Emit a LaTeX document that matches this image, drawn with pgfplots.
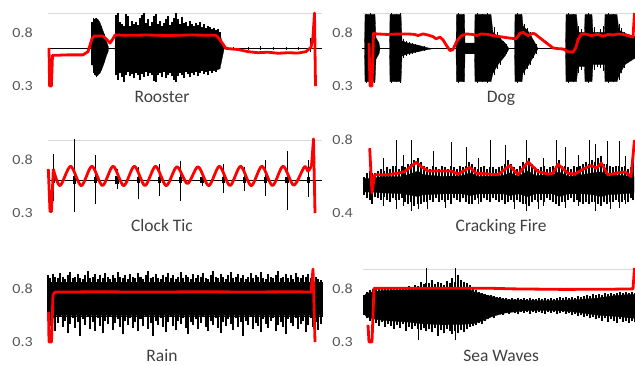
\documentclass[border=0pt]{standalone}
\usepackage{pgfplots}
\pgfplotsset{compat=1.18}
\usepackage{fontspec}
\setmainfont{Carlito}
\newfontfamily\tickfam[FakeStretch=1.15]{Carlito}
\newcommand\tickfont{\tickfam\fontsize{14}{16}\selectfont}
\newcommand\titlefont{\fontsize{17.5}{20}\selectfont}
\definecolor{tickgray}{HTML}{595959}
\definecolor{titlegray}{HTML}{404040}
\definecolor{gridgray}{HTML}{D9D9D9}
\definecolor{wred}{HTML}{FF0000}
\pgfplotsset{
  panel/.style={width=274pt, height=73pt, scale only axis, anchor=south west,
    xmin=0, xmax=274, ymin=0.3, ymax=0.98, clip=false,
    axis line style={draw=none}, major tick length=0pt,
    xtick=\empty, ytick={0.3,0.8},
    yticklabel={\pgfmathprintnumber[assume math mode=true, fixed, precision=1]{\tick}},
    yticklabel style={font=\tickfont, text=tickgray, anchor=east, inner sep=0pt},
  },
  leftcol/.style={yticklabel style={xshift=-15pt}},
  rightcol/.style={yticklabel style={xshift=-10pt}},
  redline/.style={wred, line width=2.8pt, line join=round, mark=none},
  cline/.style={black, line width=1pt, mark=none},
  body/.style={fill=black, draw=black, line width=0.3pt, mark=none},
  spikes/.style={black, only marks, mark=none, mark size=0pt,
    mark options={draw=none, fill=none},
    error bars/.cd, y dir=plus, y explicit, error mark=none,
    error bar style={line width=#1, black}},
}
\begin{document}
\begin{tikzpicture}
\useasboundingbox (0,0) rectangle (635pt,365pt);

% ---------------- Rooster ----------------
\begin{axis}[panel, leftcol, at={(48pt,279pt)}]
\draw[gridgray, line width=0.8pt] (rel axis cs:0,1) -- (rel axis cs:1,1);
\addplot[cline] coordinates {(0,0.647) (274,0.647)};
\addplot[body] table {
x y
43.5 0.647
44.5 0.88
46 0.92
48 0.93
50 0.92
52 0.89
54 0.84
56 0.79
58 0.73
60.5 0.66
60.5 0.63
58 0.57
56 0.51
54 0.46
52 0.42
50 0.40
48.5 0.39
47 0.41
45.5 0.45
44.5 0.52
43.5 0.647
};
\addplot[body] table {
x y
67 0.647
68 0.82
75 0.84
85 0.83
95 0.85
105 0.83
115 0.84
125 0.83
135 0.82
145 0.84
155 0.83
165 0.82
172 0.80
174 0.70
176 0.647
176 0.64
174 0.55
172 0.46
165 0.44
155 0.46
145 0.44
135 0.45
125 0.44
115 0.46
105 0.44
95 0.45
85 0.43
75 0.46
68 0.48
67 0.647
};
\addplot[spikes=1.7pt] table[x=x, y=lo, y error expr=\thisrow{hi}-\thisrow{lo}] {
x lo hi
44 0.50 0.90
45.5 0.42 0.93
47 0.40 0.92
48.5 0.38 0.93
50 0.41 0.90
51.5 0.43 0.89
53 0.45 0.86
54.5 0.49 0.82
56 0.52 0.78
57.5 0.56 0.74
68 0.40 0.96
70 0.36 0.98
72 0.42 0.90
74 0.38 0.88
76 0.34 0.86
78 0.40 0.97
80 0.43 0.95
82 0.39 0.86
84 0.41 0.91
86 0.37 0.88
88 0.42 0.90
90 0.40 0.87
92 0.36 0.93
94 0.41 0.96
96 0.38 0.98
98 0.43 0.89
100 0.39 0.92
102 0.42 0.86
104 0.40 0.90
106 0.35 0.95
108 0.34 0.97
110 0.40 0.88
112 0.42 0.91
114 0.38 0.86
116 0.43 0.89
118 0.37 0.92
120 0.40 0.95
122 0.42 0.87
124 0.39 0.90
126 0.36 0.93
128 0.34 0.98
130 0.39 0.92
132 0.42 0.88
134 0.40 0.94
136 0.37 0.89
138 0.43 0.90
140 0.41 0.86
142 0.38 0.91
144 0.42 0.88
146 0.40 0.86
148 0.43 0.89
150 0.39 0.87
152 0.42 0.90
154 0.44 0.85
156 0.41 0.88
158 0.43 0.84
160 0.40 0.86
162 0.44 0.85
164 0.42 0.83
166 0.45 0.84
168 0.43 0.82
170 0.46 0.83
172 0.50 0.80
};
\addplot[spikes=1pt] table[x=x, y=lo, y error expr=\thisrow{hi}-\thisrow{lo}] {
x lo hi
185 0.635 0.665
200 0.638 0.66
212 0.64 0.668
225 0.635 0.662
238 0.64 0.665
250 0.637 0.66
262 0.62 0.75
};
\addplot[redline] coordinates {(1,0.655) (1.6,0.30) (3.4,0.30) (4.5,0.585) (20,0.59) (35,0.59) (40,0.62) (44,0.74) (46,0.765) (55,0.765) (59,0.73) (62,0.70) (65,0.74) (67,0.775) (80,0.772) (100,0.775) (120,0.770) (140,0.775) (160,0.773) (168,0.772) (172,0.73) (178,0.65) (190,0.64) (200,0.62) (210,0.61) (220,0.615) (230,0.605) (240,0.61) (250,0.607) (258,0.62) (263,0.66) (265,0.76) (266.5,0.98) (267.5,0.30)};
\node[font=\titlefont, text=titlegray, anchor=base] at ([yshift=-16.5pt]rel axis cs:0.416,0) {Rooster};
\end{axis}

% ---------------- Dog ----------------
\begin{axis}[panel, rightcol, at={(363pt,279pt)}]
\draw[gridgray, line width=0.8pt] (rel axis cs:0,1) -- (rel axis cs:1,1);
\addplot[cline] coordinates {(-1,0.647) (272,0.647)};
\addplot[body] table {
x y
-1 0.647
1.5 0.647
2 0.965
12 0.965
13 0.75
16 0.70
17 0.647
26.5 0.647
27 0.965
38 0.965
39 0.72
45 0.70
55 0.68
65 0.655
70 0.647
93 0.647
93.5 0.965
101.5 0.965
102 0.70
111.5 0.70
112 0.965
128 0.965
130 0.80
135 0.76
142 0.70
146 0.647
151.5 0.647
152 0.965
159 0.965
160 0.86
166 0.80
172 0.70
175 0.647
202.5 0.647
203 0.965
213.5 0.965
215 0.80
221.5 0.80
222 0.965
229 0.965
230 0.80
241.5 0.80
242 0.965
254 0.965
256 0.82
262 0.79
272 0.76
272 0.56
262 0.50
256 0.40
254 0.34
242 0.34
241.5 0.50
230 0.50
229 0.34
222 0.34
221.5 0.48
215 0.48
213.5 0.34
203 0.34
202.5 0.647
175 0.647
172 0.60
166 0.50
160 0.42
159 0.34
152 0.34
151.5 0.647
146 0.647
142 0.58
135 0.50
130 0.42
128 0.34
112 0.34
111.5 0.60
102 0.60
101.5 0.34
93.5 0.34
93 0.647
70 0.647
65 0.64
55 0.62
45 0.60
39 0.58
38 0.34
27 0.34
26.5 0.647
17 0.647
16 0.60
13 0.55
12 0.34
2 0.34
1.5 0.647
-1 0.647
};
\addplot[spikes=1pt] table[x=x, y=lo, y error expr=\thisrow{hi}-\thisrow{lo}] {
x lo hi
3 0.33 0.975
7 0.335 0.98
11 0.33 0.975
28 0.33 0.98
33 0.335 0.975
37 0.33 0.98
40 0.56 0.74
43 0.58 0.72
46 0.59 0.71
49 0.60 0.70
52 0.61 0.69
55 0.62 0.68
58 0.625 0.675
61 0.63 0.67
95 0.33 0.98
100 0.335 0.975
114 0.33 0.98
119 0.335 0.975
124 0.33 0.98
131 0.40 0.85
134 0.46 0.80
137 0.50 0.77
140 0.56 0.72
143 0.60 0.69
154 0.33 0.98
158 0.335 0.975
161 0.40 0.88
164 0.46 0.84
167 0.50 0.80
170 0.56 0.73
173 0.60 0.69
205 0.33 0.98
210 0.335 0.975
215 0.42 0.86
218 0.45 0.83
225 0.33 0.98
231 0.45 0.85
234 0.48 0.80
237 0.47 0.83
240 0.44 0.86
245 0.33 0.98
250 0.335 0.975
256 0.36 0.88
258 0.42 0.84
261 0.47 0.80
264 0.52 0.78
267 0.54 0.76
270 0.55 0.75
};
\addplot[redline] coordinates {(6,0.70) (7,0.30) (9,0.30) (10.5,0.79) (14,0.785) (25,0.78) (35,0.785) (45,0.785) (52,0.78) (55,0.77) (60,0.785) (65,0.775) (70,0.76) (73,0.74) (77,0.755) (80,0.73) (84,0.67) (87,0.63) (90,0.64) (94,0.72) (98,0.765) (103,0.785) (110,0.78) (114,0.77) (118,0.785) (125,0.78) (130,0.77) (140,0.755) (148,0.745) (153,0.74) (157,0.79) (160,0.80) (165,0.77) (170,0.79) (172,0.785) (178,0.74) (185,0.69) (190,0.655) (195,0.648) (200,0.645) (205,0.62) (210,0.615) (213,0.66) (215,0.73) (218,0.78) (222,0.785) (228,0.77) (235,0.78) (240,0.765) (245,0.78) (250,0.775) (255,0.785) (260,0.78) (265,0.77) (270,0.755) (271.5,0.98)};
\node[font=\titlefont, text=titlegray, anchor=base] at ([yshift=-16.5pt]rel axis cs:0.504,0) {Dog};
\end{axis}

% ---------------- Clock Tic ----------------
\begin{axis}[panel, leftcol, at={(48pt,152pt)}]
\draw[gridgray, line width=0.8pt] (rel axis cs:0,1) -- (rel axis cs:1,1);
\addplot[cline] coordinates {(0,0.607) (274,0.607)};
\addplot[spikes=1pt] table[x=x, y=lo, y error expr=\thisrow{hi}-\thisrow{lo}] {
x lo hi
5.3 0.41 0.85
26.55 0.31 0.99
47.8 0.385 0.838
69.05 0.52 0.71
90.3 0.427 0.727
111.55 0.46 0.76
132.8 0.41 0.78
154.05 0.553 0.664
175.3 0.49 0.76
196.55 0.506 0.727
217.8 0.46 0.79
239.05 0.33 0.88
260.3 0.45 0.79
};
\addplot[spikes=3.2pt] table[x=x, y=lo, y error expr=\thisrow{hi}-\thisrow{lo}] {
x lo hi
5.3 0.575 0.64
26.55 0.57 0.645
47.8 0.575 0.64
69.05 0.57 0.645
90.3 0.575 0.64
111.55 0.575 0.64
132.8 0.575 0.64
154.05 0.58 0.635
175.3 0.575 0.64
196.55 0.58 0.635
217.8 0.575 0.64
239.05 0.575 0.64
260.3 0.575 0.64
};
\addplot[redline] coordinates {(0.3,0.71) (2,0.315) (3.5,0.315) (5.3,0.71)};
\addplot[redline, smooth] coordinates {(5.3,0.71) (12,0.555) (22.6,0.735) (33.25,0.555) (43.9,0.735) (54.5,0.556) (65.1,0.735) (75.75,0.555) (86.4,0.735) (97,0.556) (107.6,0.735) (118.25,0.555) (128.9,0.73) (139.5,0.575) (150.1,0.73) (160.75,0.555) (171.4,0.735) (182,0.556) (192.6,0.735) (203.25,0.555) (213.9,0.735) (224.5,0.556) (235.1,0.735) (245.75,0.56) (256.4,0.73) (260,0.69) (263.5,0.74)};
\addplot[redline] coordinates {(263.5,0.74) (265.5,0.99) (267,0.30)};
\node[font=\titlefont, text=titlegray, anchor=base] at ([yshift=-18pt]rel axis cs:0.416,0) {Clock Tic};
\end{axis}

% ---------------- Cracking Fire ----------------
\begin{axis}[panel, rightcol, at={(363pt,152pt)}, ymin=0.4, ymax=0.8, ytick={0.4,0.8}]
\addplot[body] table {
x y
1 0.555
2 0.59
10 0.59
20 0.60
40 0.60
50 0.62
55 0.63
60 0.61
80 0.60
100 0.605
107 0.62
115 0.60
140 0.605
147 0.62
155 0.60
165 0.63
172 0.605
190 0.61
196 0.625
205 0.60
220 0.61
230 0.62
238 0.625
245 0.61
260 0.605
271 0.60
271 0.51
260 0.505
245 0.50
238 0.49
230 0.50
220 0.505
205 0.505
196 0.49
190 0.505
172 0.505
165 0.49
155 0.505
147 0.495
140 0.505
115 0.505
107 0.495
100 0.505
80 0.505
60 0.50
55 0.49
50 0.495
40 0.505
20 0.51
10 0.515
2 0.515
1 0.555
};
\addplot[spikes=2.4pt] table[x=x, y=lo, y error expr=\thisrow{hi}-\thisrow{lo}] {
x lo hi
1 0.50 0.60
4 0.48 0.62
7 0.47 0.63
9 0.45 0.62
12 0.49 0.62
15 0.48 0.63
18 0.47 0.64
21 0.49 0.63
24 0.47 0.65
27 0.46 0.64
30 0.48 0.66
33 0.47 0.66
36 0.47 0.64
39 0.48 0.66
42 0.46 0.65
45 0.45 0.67
48 0.46 0.67
51 0.44 0.69
55 0.45 0.70
58 0.45 0.68
61 0.46 0.66
64 0.46 0.65
67 0.47 0.64
70 0.46 0.66
73 0.48 0.65
76 0.46 0.64
79 0.47 0.66
82 0.46 0.65
85 0.47 0.64
88 0.45 0.66
91 0.48 0.65
94 0.47 0.64
97 0.46 0.66
100 0.48 0.65
103 0.46 0.66
106 0.45 0.68
109 0.45 0.67
112 0.47 0.65
115 0.48 0.64
118 0.46 0.65
121 0.48 0.66
124 0.47 0.64
127 0.46 0.65
130 0.48 0.65
133 0.47 0.64
136 0.46 0.65
139 0.47 0.66
142 0.45 0.67
145 0.46 0.69
148 0.47 0.67
151 0.46 0.65
154 0.47 0.64
157 0.46 0.66
160 0.45 0.68
163 0.45 0.67
166 0.44 0.70
169 0.46 0.67
172 0.47 0.65
175 0.46 0.64
178 0.47 0.65
181 0.46 0.66
184 0.48 0.64
187 0.47 0.65
190 0.46 0.66
193 0.45 0.66
196 0.44 0.69
199 0.46 0.66
202 0.46 0.66
205 0.47 0.65
208 0.48 0.64
211 0.46 0.66
214 0.47 0.65
217 0.46 0.66
220 0.45 0.67
223 0.46 0.68
226 0.45 0.67
229 0.46 0.69
232 0.46 0.68
235 0.45 0.70
238 0.44 0.71
241 0.46 0.67
244 0.45 0.67
247 0.46 0.66
250 0.46 0.65
253 0.47 0.66
256 0.46 0.66
259 0.46 0.65
262 0.47 0.66
265 0.46 0.64
268 0.48 0.65
270 0.47 0.65
};
\addplot[spikes=0.9pt] table[x=x, y=lo, y error expr=\thisrow{hi}-\thisrow{lo}] {
x lo hi
20 0.44 0.70
33 0.42 0.80
40 0.44 0.72
48 0.41 0.80
55 0.42 0.62
64 0.42 0.60
70 0.50 0.74
82 0.43 0.60
88 0.45 0.79
103 0.50 0.76
115 0.45 0.70
127 0.50 0.80
142 0.50 0.77
151 0.42 0.60
163 0.41 0.80
175 0.42 0.60
180 0.44 0.70
193 0.45 0.80
202 0.43 0.76
215 0.44 0.72
226 0.48 0.80
232 0.41 0.78
244 0.45 0.795
247 0.42 0.60
256 0.43 0.795
262 0.45 0.71
270 0.47 0.78
};
\addplot[redline] coordinates {(6.7,0.755) (9,0.51) (11.7,0.61) (25,0.61) (35,0.618) (41.7,0.627) (53.3,0.678) (58,0.655) (65,0.63) (88.3,0.63) (95,0.613) (106.7,0.65) (113.3,0.618) (135,0.61) (146.7,0.66) (155,0.61) (165,0.68) (175,0.627) (185,0.613) (190,0.618) (195,0.667) (205,0.618) (211.7,0.613) (221.7,0.645) (228.3,0.66) (233.3,0.645) (238.3,0.673) (245,0.609) (255,0.62) (262,0.625) (268,0.60) (271.5,0.80)};
\node[font=\titlefont, text=titlegray, anchor=base] at ([yshift=-18.5pt]rel axis cs:0.504,0) {Cracking Fire};
\end{axis}

% ---------------- Rain ----------------
\begin{axis}[panel, leftcol, at={(48pt,23pt)}]
\addplot[body] table {
x y
0 0.855
273.7 0.855
273.7 0.545
0 0.545
0 0.855
};
\addplot[spikes=2pt] table[x=x, y=lo, y error expr=\thisrow{hi}-\thisrow{lo}] {
x lo hi
0 0.50 0.92
2.5 0.45 0.90
5 0.52 0.93
7.5 0.40 0.91
10 0.48 0.90
12.5 0.53 0.94
15 0.44 0.91
17.5 0.50 0.89
20 0.38 0.92
22.5 0.47 0.95
25 0.52 0.90
27.5 0.43 0.91
30 0.49 0.93
32.5 0.36 0.90
35 0.51 0.89
37.5 0.46 0.92
40 0.53 0.96
42.5 0.42 0.90
45 0.49 0.91
47.5 0.40 0.93
50 0.52 0.89
52.5 0.45 0.92
55 0.38 0.90
57.5 0.50 0.94
60 0.47 0.91
62.5 0.53 0.89
65 0.41 0.92
67.5 0.48 0.90
70 0.51 0.95
72.5 0.44 0.91
75 0.37 0.90
77.5 0.50 0.92
80 0.46 0.89
82.5 0.52 0.93
85 0.43 0.91
87.5 0.49 0.90
90 0.40 0.94
92.5 0.51 0.91
95 0.45 0.89
97.5 0.53 0.92
100 0.42 0.96
102.5 0.48 0.90
105 0.36 0.91
107.5 0.50 0.93
110 0.46 0.90
112.5 0.52 0.89
115 0.44 0.92
117.5 0.39 0.91
120 0.49 0.94
122.5 0.53 0.90
125 0.45 0.92
127.5 0.41 0.89
130 0.50 0.91
132.5 0.47 0.95
135 0.52 0.90
137.5 0.43 0.92
140 0.37 0.91
142.5 0.49 0.89
145 0.46 0.93
147.5 0.51 0.90
150 0.42 0.92
152.5 0.48 0.91
155 0.53 0.94
157.5 0.44 0.90
160 0.40 0.89
162.5 0.50 0.92
165 0.46 0.96
167.5 0.52 0.91
170 0.43 0.90
172.5 0.38 0.93
175 0.49 0.91
177.5 0.45 0.89
180 0.51 0.92
182.5 0.47 0.95
185 0.41 0.90
187.5 0.52 0.91
190 0.44 0.93
192.5 0.49 0.90
195 0.36 0.92
197.5 0.50 0.89
200 0.46 0.91
202.5 0.53 0.94
205 0.42 0.90
207.5 0.48 0.92
210 0.45 0.91
212.5 0.39 0.95
215 0.51 0.90
217.5 0.47 0.89
220 0.43 0.93
222.5 0.50 0.91
225 0.52 0.90
227.5 0.40 0.92
230 0.46 0.96
232.5 0.49 0.90
235 0.44 0.91
237.5 0.37 0.93
240 0.51 0.90
242.5 0.48 0.92
245 0.45 0.89
247.5 0.52 0.94
250 0.42 0.91
252.5 0.47 0.90
255 0.50 0.92
257.5 0.39 0.91
260 0.46 0.93
262.5 0.52 0.90
265 0.44 0.92
267.5 0.49 0.91
270 0.41 0.89
272.5 0.47 0.88
};
\addplot[redline] coordinates {(0.5,0.58) (1,0.30) (3.5,0.30) (5,0.74) (7,0.765) (50,0.768) (100,0.765) (150,0.768) (200,0.766) (250,0.768) (263,0.765) (265,0.98) (267,0.30)};
\node[font=\titlefont, text=titlegray, anchor=base] at ([yshift=-19.8pt]rel axis cs:0.416,0) {Rain};
\end{axis}

% ---------------- Sea Waves ----------------
\begin{axis}[panel, rightcol, at={(363pt,23pt)}]
\draw[gridgray, line width=0.8pt] (rel axis cs:0,1) -- (rel axis cs:1,1);
\addplot[body] table {
x y
0.7 0.72
3 0.75
8 0.765
20 0.78
40 0.785
55 0.79
80 0.80
105 0.80
110 0.77
120 0.745
130 0.72
142 0.695
160 0.69
180 0.685
200 0.69
215 0.695
235 0.71
250 0.73
262 0.74
272 0.745
272 0.52
262 0.53
250 0.54
235 0.55
215 0.575
200 0.59
180 0.595
160 0.59
142 0.57
130 0.54
120 0.50
110 0.47
100 0.465
80 0.46
60 0.47
40 0.49
20 0.50
8 0.52
3 0.54
0.7 0.57
0.7 0.72
};
\addplot[spikes=2.3pt] table[x=x, y=lo, y error expr=\thisrow{hi}-\thisrow{lo}] {
x lo hi
1 0.55 0.74
4 0.52 0.77
7 0.50 0.78
10 0.47 0.79
13 0.48 0.80
16 0.45 0.79
19 0.49 0.80
22 0.44 0.79
25 0.47 0.81
28 0.45 0.80
31 0.42 0.80
34 0.46 0.81
37 0.43 0.80
40 0.47 0.81
43 0.40 0.80
46 0.44 0.82
49 0.42 0.81
52 0.45 0.83
55 0.42 0.82
58 0.41 0.86
61 0.43 0.84
63 0.40 0.85
66 0.42 0.85
69 0.39 0.88
72 0.43 0.84
75 0.36 0.86
78 0.41 0.85
81 0.38 0.83
84 0.42 0.87
87 0.40 0.85
89 0.37 0.90
92 0.40 0.86
95 0.38 0.92
98 0.41 0.88
101 0.39 0.86
104 0.42 0.85
107 0.44 0.83
110 0.45 0.79
113 0.46 0.78
116 0.48 0.77
119 0.47 0.76
122 0.50 0.75
125 0.51 0.74
128 0.53 0.74
131 0.52 0.73
134 0.55 0.72
137 0.56 0.72
140 0.55 0.71
143 0.57 0.71
146 0.56 0.70
149 0.58 0.71
152 0.57 0.70
155 0.56 0.71
158 0.58 0.70
161 0.57 0.71
164 0.58 0.70
167 0.56 0.71
170 0.58 0.70
173 0.57 0.70
176 0.58 0.71
179 0.57 0.70
182 0.56 0.71
185 0.58 0.70
188 0.57 0.71
191 0.58 0.70
194 0.56 0.71
197 0.57 0.72
200 0.58 0.71
203 0.56 0.72
206 0.57 0.71
209 0.55 0.72
212 0.56 0.71
215 0.54 0.73
218 0.55 0.72
221 0.53 0.73
224 0.54 0.74
227 0.52 0.73
230 0.53 0.75
233 0.51 0.74
236 0.52 0.75
239 0.50 0.74
242 0.52 0.76
245 0.49 0.75
248 0.51 0.76
251 0.50 0.75
254 0.48 0.76
257 0.51 0.77
260 0.49 0.76
263 0.50 0.77
266 0.48 0.76
269 0.50 0.77
272 0.49 0.76
};
\addplot[spikes=0.9pt] table[x=x, y=lo, y error expr=\thisrow{hi}-\thisrow{lo}] {
x lo hi
55 0.315 0.70
63 0.50 0.99
92 0.315 0.99
};
\addplot[redline] coordinates {(5,0.46) (6,0.30) (9,0.30) (11,0.80) (50,0.80) (100,0.80) (130,0.80) (150,0.795) (200,0.79) (250,0.792) (270,0.795) (271.5,0.99)};
\node[font=\titlefont, text=titlegray, anchor=base] at ([yshift=-19.8pt]rel axis cs:0.504,0) {Sea Waves};
\end{axis}
\end{tikzpicture}
\end{document}
